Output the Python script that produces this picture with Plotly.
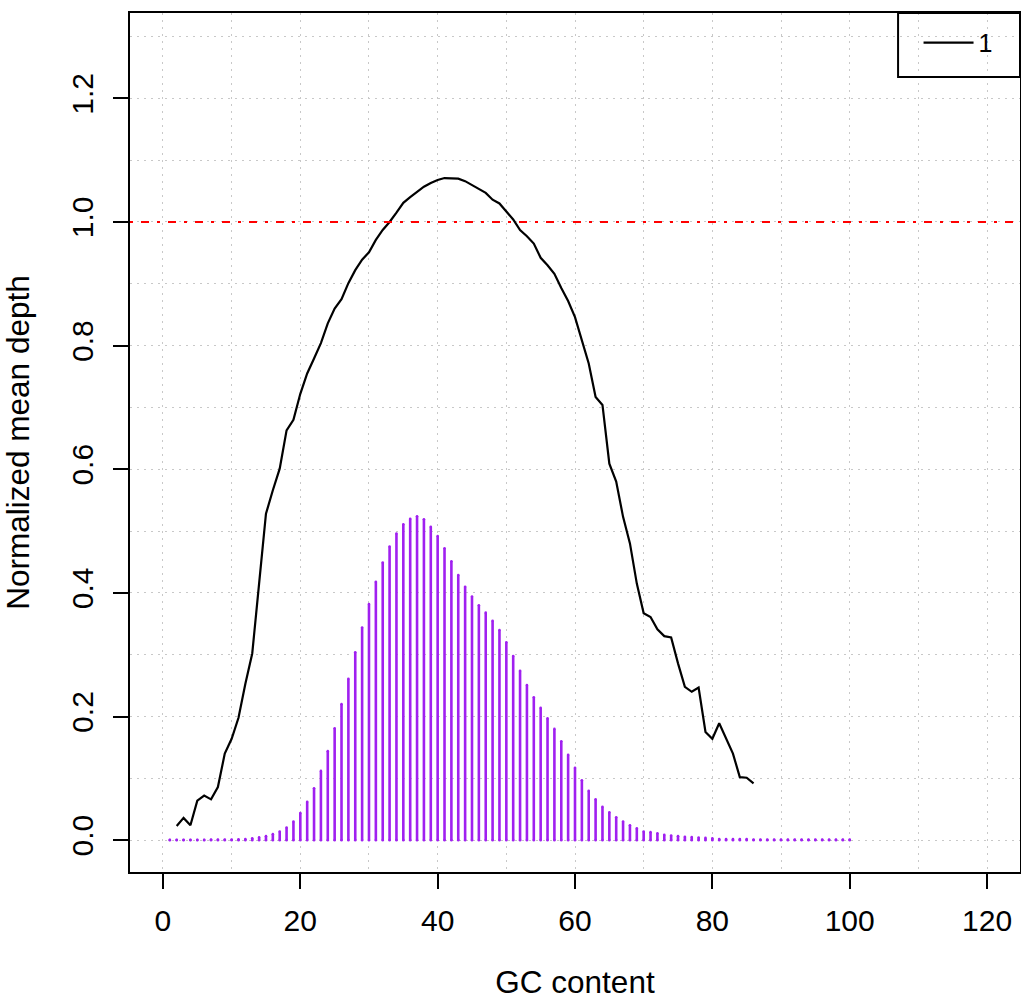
import plotly.graph_objects as go

# ---- data ----
gc_bins = list(range(1, 101))
gc_fraction = [
    0.0005, 0.0005, 0.0005, 0.0005, 0.0005, 0.0005, 0.001, 0.001, 0.001, 0.001,
    0.0015, 0.002, 0.003, 0.0045, 0.0065, 0.0097, 0.014, 0.0205, 0.030, 0.044,
    0.062, 0.084, 0.112, 0.144, 0.181, 0.220, 0.261, 0.304, 0.344, 0.382,
    0.418, 0.449, 0.475, 0.496, 0.511, 0.520, 0.524, 0.519, 0.507, 0.492,
    0.472, 0.451, 0.429, 0.410, 0.394, 0.380, 0.368, 0.355, 0.340, 0.320,
    0.298, 0.274, 0.251, 0.231, 0.214, 0.197, 0.180, 0.160, 0.138, 0.117,
    0.097, 0.080, 0.066, 0.054, 0.045, 0.037, 0.030, 0.024, 0.019, 0.014,
    0.013, 0.011, 0.0086, 0.0075, 0.0065, 0.0054, 0.005, 0.0043, 0.0038, 0.003,
    0.002, 0.002, 0.002, 0.002, 0.002, 0.001, 0.001, 0.001, 0.001, 0.001,
    0.001, 0.001, 0.001, 0.001, 0.001, 0.001, 0.001, 0.001, 0.001, 0.001,
]

depth_gc = list(range(2, 87))
depth_mean = [
    0.023, 0.036, 0.024, 0.064, 0.072, 0.066, 0.086, 0.140, 0.164, 0.198,
    0.253, 0.302, 0.415, 0.528, 0.566, 0.601, 0.663, 0.680, 0.722, 0.755,
    0.779, 0.804, 0.836, 0.860, 0.875, 0.901, 0.922, 0.939, 0.951, 0.971,
    0.987, 1.000, 1.015, 1.031, 1.040, 1.049, 1.057, 1.063, 1.068, 1.071,
    1.071, 1.070, 1.066, 1.060, 1.054, 1.047, 1.036, 1.030, 1.017, 1.004,
    0.987, 0.977, 0.965, 0.942, 0.930, 0.916, 0.893, 0.872, 0.846, 0.809,
    0.771, 0.717, 0.704, 0.609, 0.580, 0.523, 0.480, 0.415, 0.367, 0.361,
    0.341, 0.330, 0.328, 0.286, 0.248, 0.240, 0.247, 0.175, 0.164, 0.189,
    0.164, 0.140, 0.102, 0.101, 0.092,
]

x_ticks = [0, 20, 40, 60, 80, 100, 120]
y_ticks = [0.0, 0.2, 0.4, 0.6, 0.8, 1.0, 1.2]
reference_level = 1.0
series_name = "1"

PURPLE = "#A020F0"
FONT = "Liberation Sans, Arial, Helvetica, sans-serif"
GRID = "#C8C8C8"

# stems (type="h") built from the data arrays
stem_x, stem_y = [], []
for g, f in zip(gc_bins, gc_fraction):
    stem_x += [g, g, None]
    stem_y += [0, f, None]

fig = go.Figure()
fig.add_trace(go.Scatter(
    x=stem_x, y=stem_y, mode="lines",
    line=dict(color=PURPLE, width=2.6),
    showlegend=False, hoverinfo="skip", connectgaps=False,
))
# round caps of the stems
fig.add_trace(go.Scatter(
    x=gc_bins + gc_bins, y=gc_fraction + [0] * len(gc_bins), mode="markers",
    marker=dict(color=PURPLE, size=2.6, line=dict(width=0)),
    showlegend=False, hoverinfo="skip",
))
fig.add_trace(go.Scatter(
    x=depth_gc, y=depth_mean, mode="lines", name=series_name,
    line=dict(color="black", width=2.2),
))
fig.add_hline(y=reference_level, line=dict(color="red", width=2, dash="3px,8px,8px,8px"))

# legend frame
fig.add_shape(type="rect", xref="paper", yref="paper",
              x0=0.863, x1=1.0, y0=0.9255, y1=1.0,
              line=dict(color="black", width=2), fillcolor="rgba(0,0,0,0)", layer="above")

grid = dict(showgrid=True, gridcolor=GRID, gridwidth=1, griddash="2px,5px")

fig.update_xaxes(
    range=[-4.8, 124.8], tickvals=x_ticks, ticktext=[str(v) for v in x_ticks],
    ticks="outside", ticklen=15, tickwidth=2, tickcolor="black",
    showline=True, linecolor="black", linewidth=2, mirror=True,
    zeroline=False, ticklabelstandoff=6,
    minor=dict(dtick=10, tick0=0, ticks="", showgrid=True, gridcolor=GRID,
               gridwidth=1, griddash="2px,5px"),
    tickfont=dict(size=30, color="black", family=FONT),
    title=dict(text="GC content", font=dict(size=31.5, color="black", family=FONT), standoff=40),
    **grid,
)
fig.update_yaxes(
    range=[-0.0515, 1.338], tickvals=y_ticks, ticktext=[f"{v:.1f}" for v in y_ticks],
    ticks="outside", ticklen=15, tickwidth=2, tickcolor="black", tickangle=-90,
    showline=True, linecolor="black", linewidth=2, mirror=True,
    zeroline=False, ticklabelstandoff=8,
    minor=dict(dtick=0.1, tick0=0, ticks="", showgrid=True, gridcolor=GRID,
               gridwidth=1, griddash="2px,5px"),
    tickfont=dict(size=30, color="black", family=FONT),
    title=dict(text="Normalized mean depth", font=dict(size=31.5, color="black", family=FONT), standoff=32),
    **grid,
)

fig.update_layout(
    width=1021, height=1000,
    margin=dict(l=130, r=1, t=13, b=128, autoexpand=False),
    paper_bgcolor="white", plot_bgcolor="white",
    font=dict(family=FONT, color="black"),
    legend=dict(
        x=0.886, xanchor="left", y=0.992, yanchor="top",
        bgcolor="rgba(0,0,0,0)", borderwidth=0,
        font=dict(size=25, color="black", family=FONT),
        itemwidth=50,
    ),
)

fig.write_html(
    "out.html",
    config={"displayModeBar": False},
    post_script="document.body.style.margin='0px';document.body.style.overflow='hidden';",
)
